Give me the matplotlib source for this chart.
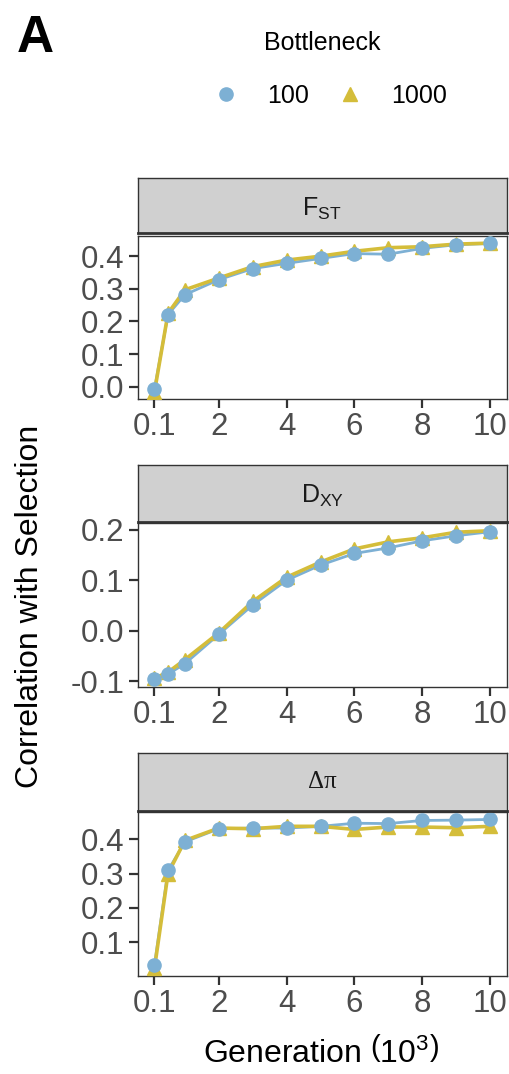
import matplotlib
matplotlib.use("Agg")
import matplotlib.pyplot as plt
from matplotlib.lines import Line2D

plt.rcParams['font.family'] = ['Liberation Sans', 'DejaVu Sans']
plt.rcParams['mathtext.fontset'] = 'custom'
plt.rcParams['mathtext.rm'] = 'Liberation Sans'
plt.rcParams['mathtext.it'] = 'Liberation Sans'

# ---- data ----
generation = [0.1, 0.5, 1, 2, 3, 4, 5, 6, 7, 8, 9, 10]
bottlenecks = ["100", "1000"]

fst_100 = [-0.007, 0.221, 0.282, 0.328, 0.362, 0.378, 0.393, 0.408, 0.406, 0.424, 0.435, 0.439]
fst_1000 = [-0.016, 0.225, 0.297, 0.333, 0.368, 0.388, 0.400, 0.415, 0.426, 0.429, 0.437, 0.440]

dxy_100 = [-0.096, -0.086, -0.065, -0.007, 0.051, 0.100, 0.130, 0.153, 0.164, 0.178, 0.188, 0.196]
dxy_1000 = [-0.094, -0.082, -0.057, -0.004, 0.058, 0.106, 0.136, 0.162, 0.176, 0.184, 0.195, 0.198]

dpi_100 = [0.035, 0.309, 0.392, 0.430, 0.432, 0.432, 0.437, 0.446, 0.445, 0.454, 0.455, 0.457]
dpi_1000 = [0.025, 0.300, 0.396, 0.432, 0.430, 0.437, 0.437, 0.428, 0.435, 0.435, 0.433, 0.437]

panel_titles = [r"F$_{\mathrm{ST}}$", r"D$_{\mathrm{XY}}$", "Δπ"]
panel_series = [(fst_100, fst_1000), (dxy_100, dxy_1000), (dpi_100, dpi_1000)]
y_ticks = [[0.0, 0.1, 0.2, 0.3, 0.4], [-0.1, 0.0, 0.1, 0.2], [0.1, 0.2, 0.3, 0.4]]
y_ticklabels = [["0.0", "0.1", "0.2", "0.3", "0.4"], ["-0.1", "0.0", "0.1", "0.2"], ["0.1", "0.2", "0.3", "0.4"]]
x_ticks = [0.1, 2, 4, 6, 8, 10]
x_ticklabels = ["0.1", "2", "4", "6", "8", "10"]

col_100 = "#7DB0D4"
col_1000 = "#D4BD3A"
edge = "#333333"
tick_col = "#4D4D4D"

W, H = 509, 1074
fig = plt.figure(figsize=(W / 100, H / 100), dpi=100)

left = 137.7 / W
width = (506.7 - 137.7) / W
# panel (top px, bottom px), strip (top px, bottom px)
panels_px = [(235.7, 399.3, 178.3, 233.3),
             (523.3, 686.7, 465.0, 521.7),
             (812.0, 975.7, 753.3, 810.7)]

for i, (ptop, pbot, stop, sbot) in enumerate(panels_px):
    ax = fig.add_axes([left, 1 - pbot / H, width, (pbot - ptop) / H])
    sax = fig.add_axes([left, 1 - sbot / H, width, (sbot - stop) / H])
    s100, s1000 = panel_series[i]
    ax.plot(generation, s100, color=col_100, lw=2.0, zorder=2)
    ax.plot(generation, s1000, color=col_1000, lw=2.6, zorder=3)
    ax.plot(generation, s1000, ls='none', marker='^', ms=10, color=col_1000, zorder=4)
    ax.plot(generation, s100, ls='none', marker='o', ms=9.5, color=col_100, zorder=5)
    ax.set_xlim(0.1 - 0.05 * 9.9, 10 + 0.05 * 9.9)
    ax.margins(y=0.05)
    ax.set_xticks(x_ticks)
    ax.set_xticklabels(x_ticklabels)
    ax.set_yticks(y_ticks[i])
    ax.set_yticklabels(y_ticklabels[i])
    ax.tick_params(axis='both', direction='out', length=6.5, width=1.6, color=edge,
                   labelcolor=tick_col, labelsize=22.5, pad=3)
    for sp in ax.spines.values():
        sp.set_color(edge)
        sp.set_linewidth(1.0)
    ax.set_facecolor('white')

    sax.set_facecolor('#D0D0D0')
    sax.set_xticks([])
    sax.set_yticks([])
    for sp in sax.spines.values():
        sp.set_color(edge)
        sp.set_linewidth(1.0)
    sax.spines['bottom'].set_linewidth(2.0)
    if i == 2:
        sax.text(0.5, 0.5, panel_titles[i], transform=sax.transAxes, ha='center', va='center',
                 fontsize=18, family=['Liberation Serif', 'DejaVu Serif'], color='#1A1A1A')
    else:
        sax.text(0.5, 0.45, panel_titles[i], transform=sax.transAxes, ha='center', va='center',
                 fontsize=18, color='#1A1A1A')

fig.text(30 / W, 1 - 606.5 / H, "Correlation with Selection", rotation=90,
         ha='center', va='center', fontsize=23, color='black')
fig.text(321 / W, 1 - 1061.7 / H, r"Generation $\left(10^3\right)$",
         ha='center', va='baseline', fontsize=23, color='black')
fig.text(17 / W, 1 - 52 / H, "A", fontsize=37, fontweight='bold', ha='left', va='baseline')

fig.text(322.5 / W, 1 - 43.3 / H, "Bottleneck", ha='center', va='center', fontsize=18)
handles = [Line2D([], [], ls='none', marker='o', ms=9.5, color=col_100),
           Line2D([], [], ls='none', marker='^', ms=10, color=col_1000)]
leg = fig.legend(handles, bottlenecks, loc='center', ncol=2,
                 bbox_to_anchor=(329 / W, 1 - 96 / H), frameon=False, fontsize=18,
                 handlelength=1.2, handletextpad=1.06,
                 columnspacing=1.04, borderpad=0.2)

fig.savefig("out.png", dpi=100)
